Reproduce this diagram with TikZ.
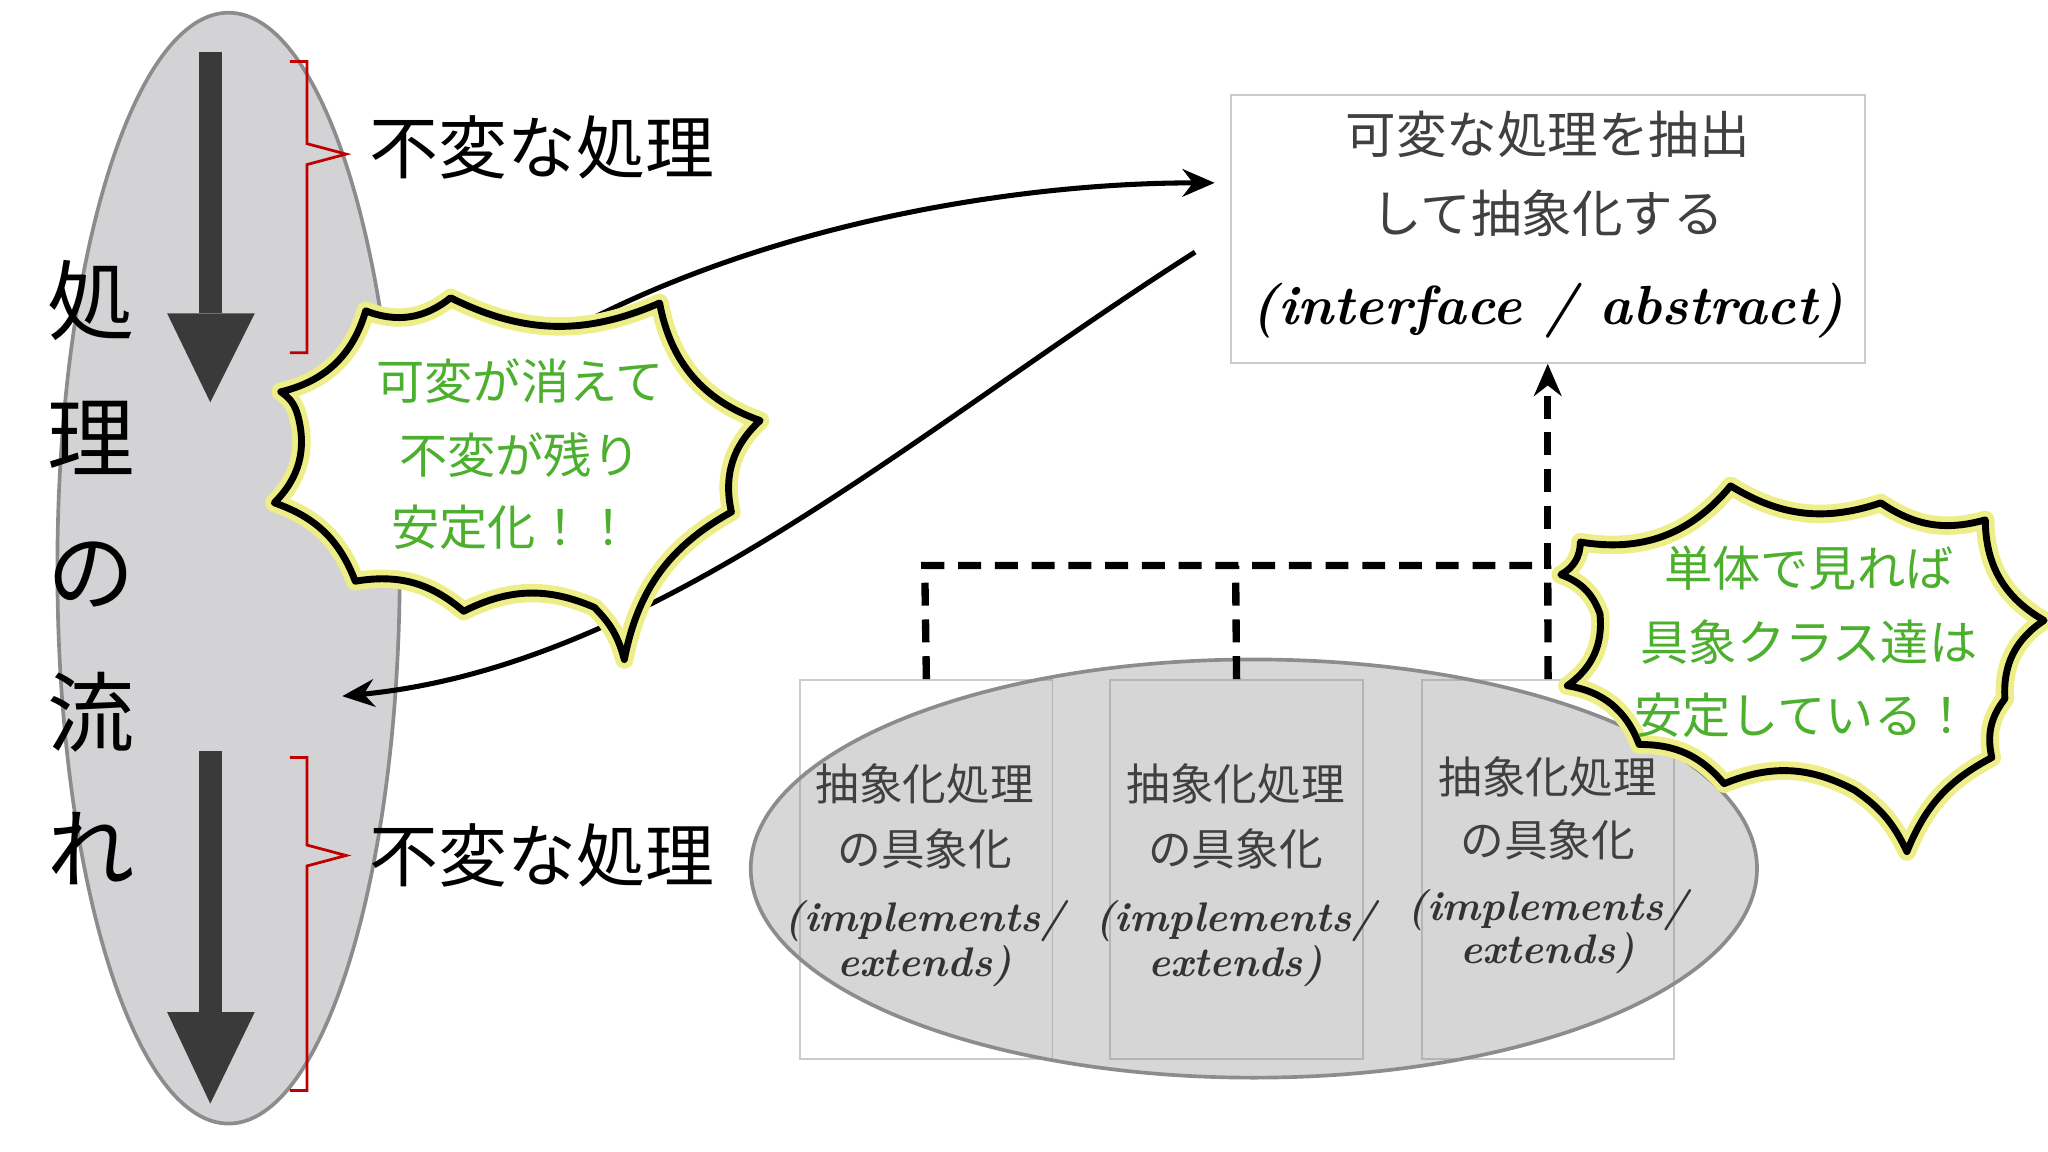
\documentclass[tikz,border=0pt]{standalone}
\usepackage{fontspec}
\newfontfamily\jp{Noto Sans CJK JP}
\usetikzlibrary{arrows.meta,shapes.geometric}
\definecolor{gfill}{HTML}{D3D3D5}
\definecolor{dark}{HTML}{3A3A3A}
\definecolor{grn}{HTML}{4CAF2E}
\definecolor{glow}{HTML}{EEEE88}
\begin{document}
\begin{tikzpicture}[x=0.01cm,y=-0.01cm,
  jt/.style={font=\jp\fontsize{15pt}{15pt}\selectfont},
  vt/.style={font=\jp\fontsize{19pt}{19pt}\selectfont},
  st/.style={font=\jp\fontsize{9.5pt}{9.5pt}\selectfont, text=black!75},
  bt/.style={font=\bfseries\itshape\fontsize{9pt}{9pt}\selectfont, text=black!80},
  gt/.style={font=\jp\fontsize{10.5pt}{10.5pt}\selectfont, text=grn},
  box/.style={draw=black!20, fill=white, inner sep=0pt},
  brace/.style={draw=red!75!black, line width=0.6pt},
  dline/.style={line width=1.6pt, dash pattern=on 5pt off 3pt},
  conn/.style={line width=1.1pt, -{Stealth[length=7pt,width=6pt]}}]
\useasboundingbox (0,0) rectangle (1568,882);
% left ellipse
\node[ellipse, draw=black!45, fill=gfill, minimum width=2.62cm, minimum height=8.5cm, inner sep=0pt, line width=0.8pt] (flow) at (175,435) {};
\fill[dark] (152,40) rectangle (170,240);
\fill[dark] (128,240) -- (195,240) -- (161,308) -- cycle;
\fill[dark] (152,575) rectangle (170,775);
\fill[dark] (128,775) -- (195,775) -- (161,845) -- cycle;
\draw[brace] (222,47) -- (235,47) -- (235,110) -- (265,118) -- (235,126) -- (235,270) -- (222,270);
\draw[brace] (222,580) -- (235,580) -- (235,647) -- (265,655) -- (235,663) -- (235,835) -- (222,835);
\node[jt] (t1) at (415,113) {不変な処理};
\node[jt] (t2) at (415,655) {不変な処理};
\node[vt] (v1) at (70,230) {処};
\node[vt] (v2) at (70,335) {理};
\node[vt] (v3) at (70,440) {の};
\node[vt] (v4) at (70,545) {流};
\node[vt] (v5) at (70,650) {れ};
% top box
\node[box, minimum width=4.85cm, minimum height=2.05cm, anchor=north west] (abs) at (942,72) {};
\node[st, font=\jp\fontsize{11pt}{11pt}\selectfont] (a1) at (1185,103) {可変な処理を抽出};
\node[st, font=\jp\fontsize{11pt}{11pt}\selectfont] (a2) at (1185,163) {して抽象化する};
\node[font=\bfseries\itshape\fontsize{12pt}{12pt}\selectfont] (a3) at (1185,238) {(interface / abstract)};
% curves
\coordinate (c1s) at (455,243);
\coordinate (c1e) at (930,140);
\draw[conn] (c1s) .. controls (600,170) and (780,140) .. (c1e);
\coordinate (c2s) at (915,193);
\coordinate (c2e) at (262,533);
\draw[conn] (c2s) .. controls (700,330) and (500,510) .. (c2e);
% bubble 1
\def\bubA{(280,238) to[bend right=30] (345,228) to[bend right=25] (505,232) to[bend right=30] (582,322) to[bend right=30] (560,392) to[bend right=25] (478,505) to[bend right=15] (455,465) to[bend right=25] (355,468) to[bend right=25] (272,445) to[bend right=25] (210,385) to[bend right=30] (228,318) to[bend right=20] (215,300) to[bend right=30] cycle}
\fill[white] \bubA;
\draw[glow, line width=4pt, line join=round] \bubA;
\draw[black, line width=1.5pt, line join=round] \bubA;
\node[gt] (g1) at (398,292) {可変が消えて};
\node[gt] (g2) at (398,348) {不変が残り};
\node[gt] (g3) at (392,404) {安定化！！};
% lower boxes
\node[box, minimum width=1.93cm, minimum height=2.9cm, anchor=north west] (b1) at (612,520) {};
\node[box, minimum width=1.94cm, minimum height=2.9cm, anchor=north west] (b2) at (849,520) {};
\node[box, minimum width=1.93cm, minimum height=2.9cm, anchor=north west] (b3) at (1088,520) {};
\node[ellipse, draw=black!45, fill=black!45, fill opacity=0.35, minimum width=7.7cm, minimum height=3.2cm, inner sep=0pt, line width=0.8pt] (grp) at (960,665) {};
\coordinate (j1) at (708,433);
\coordinate (j2) at (946,433);
\coordinate (j3) at (1185,433);
\draw[dline] (b1.north) -- (j1) -- (j3);
\draw[dline] (b2.north) -- (j2);
\draw[dline] (b3.north) -- (j3);
\draw[dline, -{Stealth[length=7pt,width=6pt]}] (j3) -- (abs.south -| j3);
\foreach \n/\x/\ya/\yb/\yc/\yd in {p/708/600/650/705/740, q/946/600/650/705/740, r/1185/595/643/697/730}{
  \node[st] (\n1) at (\x,\ya) {抽象化処理};
  \node[st] (\n2) at (\x,\yb) {の具象化};
  \node[bt] (\n3) at (\x,\yc) {(implements/};
  \node[bt] (\n4) at (\x,\yd) {extends)};
}
% bubble 2
\def\bubB{(1210,415) to[bend right=30] (1325,372) to[bend right=25] (1440,385) to[bend right=25] (1520,398) to[bend right=30] (1565,475) to[bend right=30] (1535,535) to[bend right=25] (1525,580) to[bend right=20] (1460,652) to[bend right=15] (1420,605) to[bend right=25] (1320,600) to[bend right=25] (1255,570) to[bend right=30] (1200,525) to[bend right=30] (1225,470) to[bend right=25] (1195,440) to[bend right=30] cycle}
\fill[white] \bubB;
\draw[glow, line width=4pt, line join=round] \bubB;
\draw[black, line width=1.5pt, line join=round] \bubB;
\node[gt] (h1) at (1385,435) {単体で見れば};
\node[gt] (h2) at (1385,492) {具象クラス達は};
\node[gt] (h3) at (1380,548) {安定している！};
\end{tikzpicture}
\end{document}
